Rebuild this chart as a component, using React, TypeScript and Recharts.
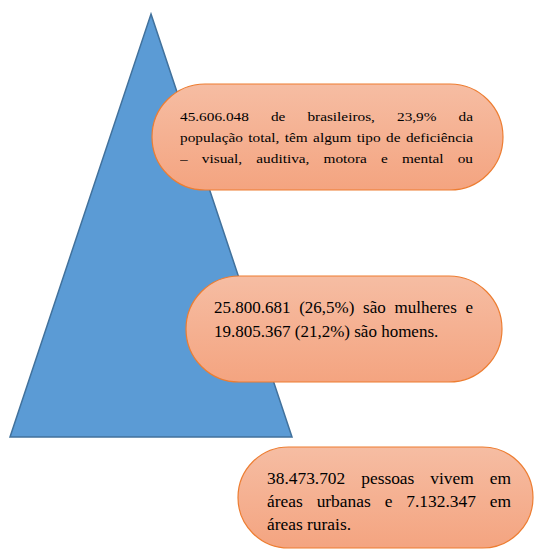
import { ComposedChart, XAxis, YAxis, ReferenceArea } from "recharts";

// pyramid outline in page units (x: 0..535, y: 0..549 from the top)
const pyramid = { x1: 10, x2: 292, y1: 14, y2: 437 };

// the three callout boxes
const boxes = [
  { x1: 152, x2: 503, y1: 84, y2: 190 },
  { x1: 186, x2: 502, y1: 276, y2: 382 },
  { x1: 238, x2: 533, y1: 447, y2: 548 },
];

const boxLines = [
  [
    "45.606.048 de brasileiros, 23,9% da",
    "população total, têm algum tipo de deficiência",
    "– visual, auditiva, motora e mental ou",
  ],
  ["25.800.681 (26,5%) são mulheres e", "19.805.367 (21,2%) são homens."],
  ["38.473.702 pessoas vivem em", "áreas urbanas e 7.132.347 em", "áreas rurais."],
];

const justified = [
  [true, true, true],
  [true, false],
  [true, true, false],
];

const textAreas = [
  { x1: 180, x2: 473, top: 106, size: 15.3, pitch: 21, squash: 0.88 },
  { x1: 214, x2: 473, top: 296, size: 17, pitch: 23.5, squash: 1 },
  { x1: 267, x2: 511, top: 467, size: 17.4, pitch: 23, squash: 1 },
];

const norm = (p: any) => {
  const y = Math.min(p.y, p.y + p.height);
  return { x: p.x, y, w: Math.abs(p.width), h: Math.abs(p.height) };
};

const Triangle = (p: any) => {
  const { x, y, w, h } = norm(p);
  const pts = `${x + w / 2},${y} ${x + w},${y + h} ${x},${y + h}`;
  return <polygon points={pts} fill="#5b9bd5" stroke="#41719c" strokeWidth={1.5} />;
};

const Pill = (p: any) => {
  const { x, y, w, h } = norm(p);
  return (
    <rect
      x={x}
      y={y}
      width={w}
      height={h}
      rx={h / 2}
      ry={h / 2}
      fill="url(#boxFill)"
      stroke="#ed7d31"
      strokeWidth={1.2}
    />
  );
};

const makeText = (i: number) => (p: any) => {
  const { x, y, w, h } = norm(p);
  const a = textAreas[i];
  const lh = a.pitch / a.squash;
  return (
    <foreignObject x={x} y={y} width={w + 4} height={h + 10}>
      <div
        style={{
          width: w,
          fontFamily: "Liberation Serif, Times New Roman, Times, serif",
          fontSize: a.size,
          lineHeight: `${lh}px`,
          color: "#000",
          transform: `scaleY(${a.squash})`,
          transformOrigin: "top left",
        }}
      >
        {boxLines[i].map((line, j) => (
          <div
            key={j}
            style={{
              width: w,
              height: lh,
              textAlign: "justify",
              textAlignLast: justified[i][j] ? "justify" : "left",
              whiteSpace: justified[i][j] ? "normal" : "nowrap",
            }}
          >
            {line}
          </div>
        ))}
      </div>
    </foreignObject>
  );
};

export default function App() {
  return (
    <div style={{ position: "absolute", left: 0, top: 0, width: 535, height: 549, background: "#fff" }}>
      <ComposedChart width={535} height={549} margin={{ top: 0, right: 0, bottom: 0, left: 0 }} data={[]}>
        <defs>
          <linearGradient id="boxFill" x1="0" y1="0" x2="0" y2="1">
            <stop offset="0%" stopColor="#f6bda3" />
            <stop offset="100%" stopColor="#f4a480" />
          </linearGradient>
        </defs>
        <XAxis type="number" dataKey="x" domain={[0, 535]} hide allowDataOverflow />
        <YAxis type="number" domain={[0, 549]} reversed hide allowDataOverflow />
        <ReferenceArea
          x1={pyramid.x1}
          x2={pyramid.x2}
          y1={pyramid.y1}
          y2={pyramid.y2}
          ifOverflow="visible"
          shape={Triangle}
        />
        {boxes.map((b, i) => (
          <ReferenceArea key={`b${i}`} x1={b.x1} x2={b.x2} y1={b.y1} y2={b.y2} ifOverflow="visible" shape={Pill} />
        ))}
        {textAreas.map((t, i) => (
          <ReferenceArea
            key={`t${i}`}
            x1={t.x1}
            x2={t.x2}
            y1={t.top}
            y2={t.top + t.pitch * boxLines[i].length}
            ifOverflow="visible"
            shape={makeText(i)}
          />
        ))}
      </ComposedChart>
    </div>
  );
}
